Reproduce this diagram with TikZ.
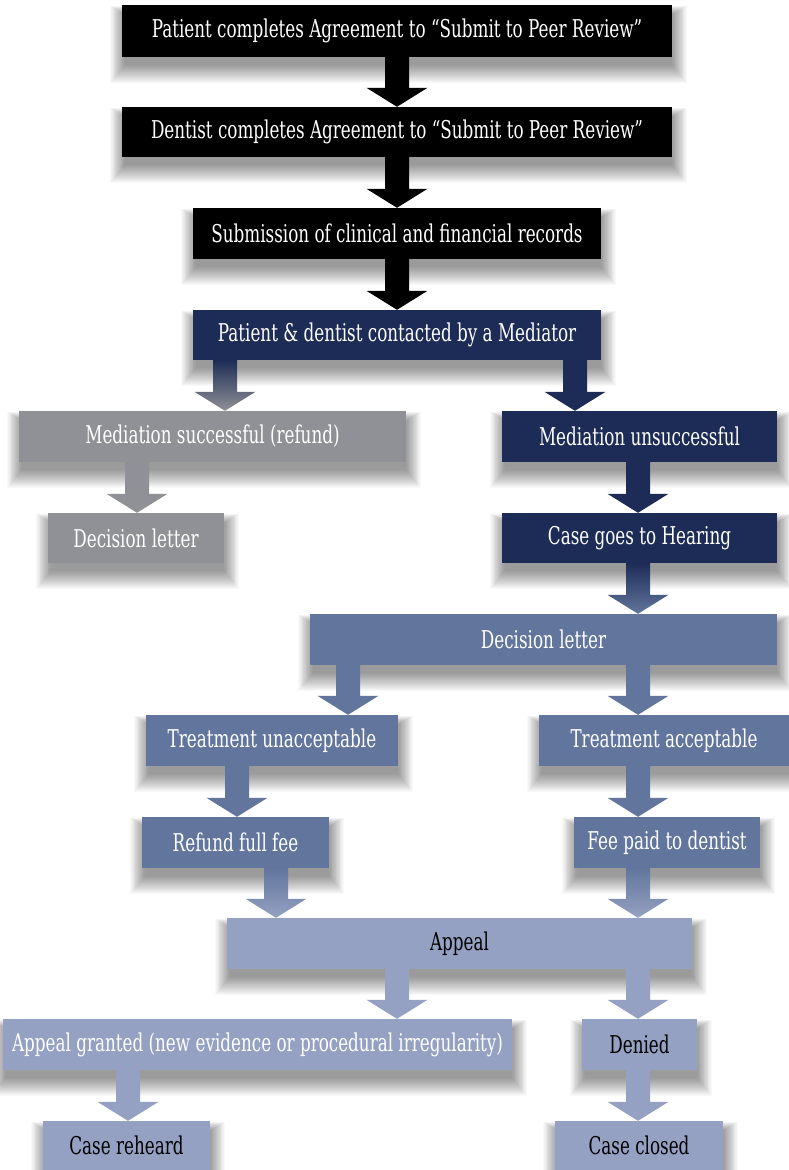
\documentclass[tikz,border=0pt]{standalone}
\usepackage{fontspec}
\setmainfont{DejaVu Serif}[FakeStretch=0.685]
\usetikzlibrary{calc}
\pgfdeclarelayer{bg}
\pgfsetlayers{bg,main}
\definecolor{navy}{HTML}{1D2C56}
\definecolor{grayb}{HTML}{8F9196}
\definecolor{medb}{HTML}{62769D}
\definecolor{lightb}{HTML}{94A1C2}
\newcommand\blockarrow[4]{%
  \path[#1] let \p1=(#2.south), \p2=(#3.north) in
    ({#4pt-12pt},{\y1}) -- ({#4pt+12pt},{\y1}) -- ({#4pt+12pt},{\y2+19pt})
    -- ({#4pt+30.5pt},{\y2+19pt}) -- ({#4pt},{\y2}) -- ({#4pt-30.5pt},{\y2+19pt})
    -- ({#4pt-12pt},{\y2+19pt}) -- cycle;}
\newcommand\boxshadow[1]{%
  \begin{pgfonlayer}{bg}
  \foreach \i in {0,...,18}{%
    \fill[shadowlayer]
      ($(#1.north west)+({(3-0.8*\i)*1pt},{(0.5*\i-10)*1pt})$) rectangle
      ($(#1.south east)+({(0.8*\i)*1pt},{(-8-\i)*1pt})$);}
  \end{pgfonlayer}}
\tikzset{
  shadowlayer/.style={black, opacity=0.025},
  box/.style={rectangle, inner sep=0pt, text=white, minimum height=51pt,
    font=\fontsize{24.5}{27}\selectfont},
  kbox/.style={box, fill=black},
  nbox/.style={box, fill=navy},
  gbox/.style={box, fill=grayb},
  mbox/.style={box, fill=medb},
  lbox/.style={box, fill=lightb},
  darktext/.style={text=black},
  karrow/.style={fill=black},
  narrow/.style={fill=navy},
  garrow/.style={fill=grayb},
  marrow/.style={fill=medb},
  larrow/.style={fill=lightb},
  ngarrow/.style={top color=navy, bottom color=grayb},
  nmarrow/.style={top color=navy, bottom color=medb},
  mlarrow/.style={top color=medb, bottom color=lightb},
}
\begin{document}
\begin{tikzpicture}[x=1pt,y=-1pt]
\begin{pgfonlayer}{bg}
\fill[white] (0,0) rectangle (789,1170);
\end{pgfonlayer}
\useasboundingbox (0,0) rectangle (789,1170);
\node[kbox, minimum width=550pt, minimum height=52pt] (b1) at (397,31) {Patient completes Agreement to “Submit to Peer Review”};
\node[kbox, minimum width=550pt, minimum height=50pt] (b2) at (397,132) {Dentist completes Agreement to “Submit to Peer Review”};
\node[kbox, minimum width=408pt] (b3) at (397,233.5) {Submission of clinical and financial records};
\node[nbox, minimum width=408pt, minimum height=50pt] (b4) at (397,335) {Patient \& dentist contacted by a Mediator};
\node[gbox, minimum width=387pt] (b5) at (212.5,436.5) {Mediation successful (refund)};
\node[nbox, minimum width=275pt] (b6) at (639.5,436.5) {Mediation unsuccessful};
\node[gbox, minimum width=176pt, minimum height=50pt] (b7) at (136,538) {Decision letter};
\node[nbox, minimum width=275pt, minimum height=50pt] (b8) at (639.5,538) {Case goes to Hearing};
\node[mbox, minimum width=467pt] (b9) at (543.5,639.5) {Decision letter};
\node[mbox, minimum width=252pt] (b10) at (272,740.5) {Treatment unacceptable};
\node[mbox, minimum width=250pt] (b11) at (664,740.5) {Treatment acceptable};
\node[mbox, minimum width=187pt] (b12) at (235.5,842.5) {Refund full fee};
\node[mbox, minimum width=186pt] (b13) at (667,842.5) {Fee paid to dentist};
\node[lbox, darktext, minimum width=465pt] (b14) at (459.5,943.5) {Appeal};
\node[lbox, minimum width=509pt] (b15) at (257.5,1044.5) {Appeal granted (new evidence or procedural irregularity)};
\node[lbox, darktext, minimum width=115pt] (b16) at (639.5,1044.5) {Denied};
\node[lbox, darktext, minimum width=167pt, minimum height=49pt] (b17) at (126.5,1145.5) {Case reheard};
\node[lbox, darktext, minimum width=168pt, minimum height=49pt] (b18) at (639,1145.5) {Case closed};
\foreach \b in {b1,b2,b3,b4,b5,b6,b7,b8,b9,b10,b11,b12,b13,b14,b15,b16,b17,b18}{\boxshadow{\b}}
\blockarrow{karrow}{b1}{b2}{397}
\blockarrow{karrow}{b2}{b3}{397}
\blockarrow{karrow}{b3}{b4}{397}
\blockarrow{ngarrow}{b4}{b5}{225}
\blockarrow{narrow}{b4}{b6}{575}
\blockarrow{garrow}{b5}{b7}{137}
\blockarrow{narrow}{b6}{b8}{638}
\blockarrow{nmarrow}{b8}{b9}{638}
\blockarrow{marrow}{b9}{b10}{348}
\blockarrow{marrow}{b9}{b11}{638}
\blockarrow{marrow}{b10}{b12}{237}
\blockarrow{marrow}{b11}{b13}{638}
\blockarrow{mlarrow}{b12}{b14}{276}
\blockarrow{mlarrow}{b13}{b14}{638}
\blockarrow{larrow}{b14}{b15}{397}
\blockarrow{larrow}{b14}{b16}{638}
\blockarrow{larrow}{b15}{b17}{128}
\blockarrow{larrow}{b16}{b18}{638}
\end{tikzpicture}
\end{document}
